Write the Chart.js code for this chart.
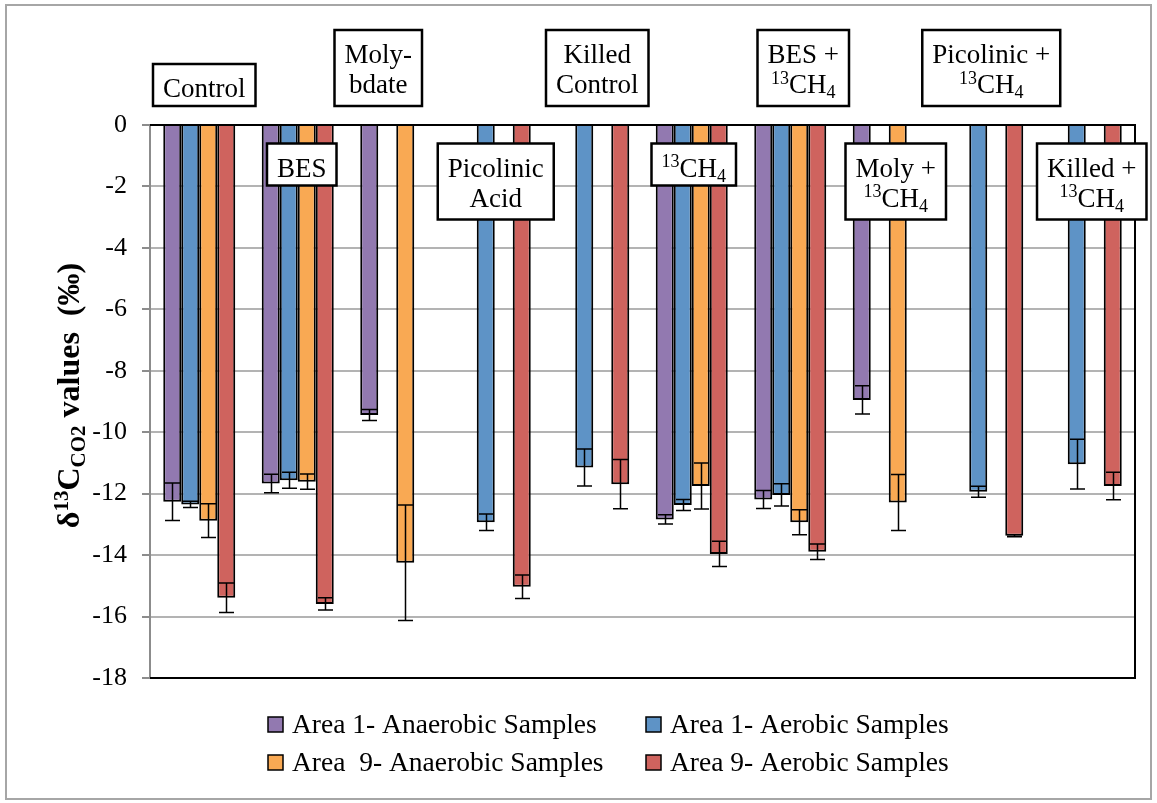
<!DOCTYPE html>
<html>
<head>
<meta charset="utf-8">
<script src="https://cdn.jsdelivr.net/npm/chart.js@4"></script>
<style>
  html, body { margin: 0; padding: 0; background: #fff; }
  canvas { display: block; }
</style>
</head>
<body>
<canvas id="chart" width="1157" height="803"></canvas>
<script>
// treatments (one group of bars each)
const groups = ["Control", "BES", "Molybdate", "Picolinic Acid", "Killed Control",
  "13CH4", "BES + 13CH4", "Moly + 13CH4", "Picolinic + 13CH4", "Killed + 13CH4"];

const area1Anaerobic = [-12.26, -11.67, -9.44, null, null, -12.84, -12.19, -8.95, null, null];
const area1AnaerobicErr = [0.61, 0.30, 0.18, null, null, 0.15, 0.29, 0.46, null, null];
const area1Aerobic = [-12.35, -11.56, null, -12.93, -11.15, -12.37, -12.04, null, -11.94, -11.04];
const area1AerobicErr = [0.10, 0.26, null, 0.27, 0.60, 0.18, 0.36, null, 0.18, 0.81];
const area9Anaerobic = [-12.88, -11.61, -14.25, null, null, -11.75, -12.93, -12.29, null, null];
const area9AnaerobicErr = [0.55, 0.25, 1.88, null, null, 0.75, 0.41, 0.91, null, null];
const area9Aerobic = [-15.39, -15.59, null, -15.03, -11.69, -13.96, -13.89, null, -13.37, -11.75];
const area9AerobicErr = [0.48, 0.20, null, 0.38, 0.80, 0.41, 0.25, null, 0.03, 0.45];

const seriesNames = ["Area 1- Anaerobic Samples", "Area 1- Aerobic Samples",
  "Area  9- Anaerobic Samples", "Area 9- Aerobic Samples"];

// y axis
const yMin = -18, yMax = 0, yStep = 2;

// boxed treatment labels ("^" = superscript, "_" = subscript)
const boxLines = [["Control"], ["BES"], ["Moly-", "bdate"], ["Picolinic", "Acid"], ["Killed", "Control"],
  ["^13CH_4"], ["BES +", "^13CH_4"], ["Moly +", "^13CH_4"], ["Picolinic +", "^13CH_4"], ["Killed +", "^13CH_4"]];
const boxRow = ["top", "low", "top", "low", "top", "low", "top", "low", "top", "low"];
const boxShift = [5, 4, -18, 1, 4, 2, 13, 7, 4, 6];

const yTitle = "δ^13C_CO2 values  (‰)";

const colors = ["#9279b0", "#5e93c6", "#f9a953", "#cf635e"];
const SERIF = "'Liberation Serif', 'Times New Roman', serif";

// draw text with ^sup and _sub parts, starting at x (left), baseline y
function richParts(str) {
  return str.match(/\^\d+|_[A-Za-z0-9]+|[^^_]+/g).map(t => {
    if (t[0] === "^") return { text: t.slice(1), kind: "sup" };
    if (t[0] === "_") return { text: t.slice(1), kind: "sub" };
    return { text: t, kind: "main" };
  });
}
function richFont(kind, size, bold) {
  const s = kind === "main" ? size : Math.round(size * 0.66);
  return (bold ? "bold " : "") + s + "px " + SERIF;
}
function richWidth(ctx, str, size, bold) {
  let w = 0;
  richParts(str).forEach(p => { ctx.font = richFont(p.kind, size, bold); w += ctx.measureText(p.text).width; });
  return w;
}
function richDraw(ctx, str, x, y, size, bold) {
  richParts(str).forEach(p => {
    ctx.font = richFont(p.kind, size, bold);
    const dy = p.kind === "sup" ? -size * 0.34 : p.kind === "sub" ? size * 0.2 : 0;
    ctx.fillText(p.text, x, y + dy);
    x += ctx.measureText(p.text).width;
  });
}

const decorations = {
  id: "decorations",
  afterDatasetsDraw(chart) {
    const ctx = chart.ctx, a = chart.chartArea;
    const xs = chart.scales.x, ys = chart.scales.y;
    ctx.save();

    // plot frame (left side is the grey axis line)
    ctx.strokeStyle = "#000";
    ctx.lineWidth = 2;
    ctx.beginPath();
    ctx.moveTo(a.left, a.top); ctx.lineTo(a.right, a.top);
    ctx.lineTo(a.right, a.bottom); ctx.lineTo(a.left, a.bottom);
    ctx.stroke();

    // error bars
    ctx.lineWidth = 1.5;
    chart.data.datasets.forEach((ds, i) => {
      const meta = chart.getDatasetMeta(i);
      meta.data.forEach((bar, j) => {
        const v = ds.data[j], e = ds.errors[j];
        if (v == null || e == null) return;
        const y1 = ys.getPixelForValue(v + e), y2 = ys.getPixelForValue(v - e);
        const x = Math.round(bar.x) + 0.5;
        ctx.beginPath();
        ctx.moveTo(x, y1); ctx.lineTo(x, y2);
        ctx.moveTo(x - 7.5, y1); ctx.lineTo(x + 7.5, y1);
        ctx.moveTo(x - 7.5, y2); ctx.lineTo(x + 7.5, y2);
        ctx.stroke();
      });
    });

    // boxed labels
    ctx.textBaseline = "alphabetic";
    groups.forEach((g, i) => {
      const lines = boxLines[i];
      const w = Math.max(...lines.map(l => richWidth(ctx, l, 27, false))) + 20;
      const h = 42 + 34 * (lines.length - 1);
      const cx = xs.getPixelForValue(i) + boxShift[i];
      const top = boxRow[i] === "top" ? 106 - h : 143.5;
      ctx.fillStyle = "#fff";
      ctx.fillRect(cx - w / 2, top, w, h);
      ctx.strokeStyle = "#000";
      ctx.lineWidth = 2.5;
      ctx.strokeRect(cx - w / 2, top, w, h);
      ctx.fillStyle = "#000";
      lines.forEach((l, k) => {
        const lw = richWidth(ctx, l, 27, false);
        richDraw(ctx, l, cx - lw / 2, top + 33 + 30 * k, 27, false);
      });
    });

    // legend, two columns
    const colX = [268, 646], rowY = [725, 763];
    seriesNames.forEach((name, i) => {
      const x = colX[i % 2], y = rowY[Math.floor(i / 2)];
      ctx.fillStyle = colors[i];
      ctx.fillRect(x, y - 8, 15, 15);
      ctx.strokeStyle = "#000";
      ctx.lineWidth = 1.5;
      ctx.strokeRect(x, y - 8, 15, 15);
      ctx.fillStyle = "#000";
      ctx.font = "27.5px " + SERIF;
      ctx.textBaseline = "middle";
      ctx.fillText(name, x + 24, y + 1);
    });

    // y axis title
    ctx.textBaseline = "alphabetic";
    ctx.translate(79, (a.top + a.bottom) / 2 - 6);
    ctx.rotate(-Math.PI / 2);
    const tw = richWidth(ctx, yTitle, 32, true);
    richDraw(ctx, yTitle, -tw / 2, 0, 32, true);
    ctx.restore();
  },
  afterDraw(chart) {
    const ctx = chart.ctx;
    ctx.save();
    ctx.strokeStyle = "#a6a6a6";
    ctx.lineWidth = 2;
    ctx.strokeRect(6, 5, 1145, 794);
    ctx.restore();
  }
};

const sets = [
  [area1Anaerobic, area1AnaerobicErr],
  [area1Aerobic, area1AerobicErr],
  [area9Anaerobic, area9AnaerobicErr],
  [area9Aerobic, area9AerobicErr]
];

new Chart(document.getElementById("chart"), {
  type: "bar",
  data: {
    labels: groups,
    datasets: sets.map((s, i) => ({
      label: seriesNames[i],
      data: s[0],
      errors: s[1],
      backgroundColor: colors[i],
      borderColor: "#000",
      borderWidth: 2,
      categoryPercentage: 0.731,
      barPercentage: 1.0
    }))
  },
  options: {
    responsive: false,
    animation: false,
    devicePixelRatio: 1,
    layout: { padding: { left: 0, right: 22, top: 125, bottom: 125 } },
    plugins: { legend: { display: false }, tooltip: { enabled: false } },
    scales: {
      x: { display: false },
      y: {
        min: yMin, max: yMax,
        afterFit: s => { s.width = 150; },
        ticks: { stepSize: yStep, color: "#000", padding: 15, font: { family: SERIF, size: 26 } },
        grid: { color: "#b3b3b3", lineWidth: 2, tickLength: 8, tickColor: "#8c8c8c" },
        border: { color: "#8c8c8c", width: 2 }
      }
    }
  },
  plugins: [decorations]
});
</script>
</body>
</html>
